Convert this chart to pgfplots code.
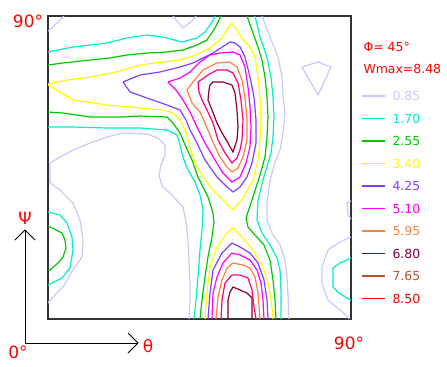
\documentclass[border=0pt]{standalone}
\usepackage{pgfplots}
\pgfplotsset{compat=1.18}
\usepackage{fontspec}
\setmainfont{DejaVu Sans}
\definecolor{c1}{RGB}{200,200,255}
\definecolor{c2}{RGB}{0,240,200}
\definecolor{c3}{RGB}{0,200,0}
\definecolor{c4}{RGB}{255,255,0}
\definecolor{c5}{RGB}{128,64,255}
\definecolor{c6}{RGB}{255,0,255}
\definecolor{c7}{RGB}{255,128,64}
\definecolor{c8}{RGB}{255,0,128}
\definecolor{c9}{RGB}{140,0,40}
\definecolor{l8}{RGB}{128,0,64}
\definecolor{l9}{RGB}{192,80,48}
\definecolor{l10}{RGB}{255,0,0}
\definecolor{lab}{RGB}{255,0,0}
\begin{document}
\begin{tikzpicture}
\path[use as bounding box] (0bp,0bp) rectangle (447bp,-367bp);
\begin{axis}[
  at={(48bp,-319bp)}, anchor=south west,
  scale only axis, width=303bp, height=303bp,
  xmin=48, xmax=351, ymin=16, ymax=319, y dir=reverse,
  axis line style={draw=black!80, line width=1.4bp},
  ticks=none,
  every axis plot/.append style={line width=1.2bp, no markers},
]
% level 0.85
\addplot[c1] coordinates {(48,31) (57,23) (64,16)};
\addplot[c1] coordinates {(173,16) (183,28) (192,21) (196,16)};
\addplot[c1] coordinates {(189,319) (190,300) (190,283) (189,260) (188,240) (186,222) (183,207) (172,195) (162,186) (159,175) (161,165) (165,155) (165,145) (158,138) (147,134) (123,133) (107,137) (90,143) (73,150) (60,157) (50,163) (50,183) (60,190) (73,203) (80,220) (83,240) (82,257) (73,270) (63,287) (50,300) (48,303)};
\addplot[c1] coordinates {(262,16) (270,37) (278,57) (282,77) (283,97) (285,113) (283,133) (280,150) (275,162) (270,180) (267,203) (267,220) (272,233) (280,245) (285,260) (287,277) (288,295) (289,319)};
\addplot[c1] coordinates {(302,67) (318,62) (331,67) (318,95) (302,67)};
\addplot[c1] coordinates {(351,237) (340,242) (328,250) (322,267) (322,283) (328,300) (340,310) (347,316) (349,319)};
\addplot[c1] coordinates {(351,201) (347,203) (348,215) (351,219)};
% level 1.70
\addplot[c2] coordinates {(48,52) (73,47) (107,43) (127,38) (147,35) (163,37) (182,42) (197,38) (205,32) (212,22) (215,16)};
\addplot[c2] coordinates {(48,127) (73,127) (107,128) (140,128) (167,130) (177,135) (180,145) (183,157) (187,168) (195,182) (200,195) (203,210) (202,230) (200,250) (198,277) (196,300) (194,319)};
\addplot[c2] coordinates {(255,16) (260,37) (267,57) (271,77) (273,97) (274,117) (273,137) (271,153) (268,163) (263,180) (258,200) (257,220) (262,233) (270,245) (277,258) (280,270) (281,290) (281,319)};
\addplot[c2] coordinates {(48,212) (60,215) (67,223) (72,237) (73,250) (70,268) (62,278) (50,284) (48,285)};
\addplot[c2] coordinates {(351,258) (340,263) (333,268) (333,287) (338,292) (345,297) (351,300)};
% level 2.55
\addplot[c3] coordinates {(48,65) (63,63) (90,60) (110,58) (127,55) (147,53) (167,52) (183,50) (197,45) (207,40) (215,28) (221,16)};
\addplot[c3] coordinates {(48,112) (63,113) (90,117) (123,117) (140,116) (167,117) (173,123) (180,133) (186,147) (192,160) (198,177) (208,197) (213,213) (214,222) (212,237) (208,257) (205,277) (202,300) (200,319)};
\addplot[c3] coordinates {(247,16) (252,30) (258,47) (262,60) (265,77) (267,97) (268,117) (267,137) (265,157) (260,175) (252,200) (246,218) (248,227) (255,235) (264,245) (270,260) (273,280) (275,300) (276,319)};
\addplot[c3] coordinates {(48,226) (62,233) (65,240) (66,248) (63,257) (58,263) (50,270) (48,270)};
% level 3.40
\addplot[c4] coordinates {(48,84) (67,80) (90,77) (117,72) (140,65) (163,62) (180,60) (193,56) (210,48) (222,38) (228,28) (232,23) (237,30) (243,40) (250,47) (255,57) (258,77) (260,97) (261,120) (260,140) (258,160) (253,180) (243,198) (233,210) (223,200) (213,190) (203,177) (195,163) (190,147) (186,132) (180,120) (173,113) (163,110) (140,108) (107,105) (73,100) (60,92) (48,85)};
\addplot[c4] coordinates {(205,319) (207,293) (210,267) (217,247) (227,233) (233,228) (242,237) (253,250) (263,267) (269,287) (272,307) (273,319)};
% level 4.25
\addplot[c5] coordinates {(123,82) (140,75) (160,72) (180,67) (193,63) (213,53) (230,42) (235,43) (240,47) (245,57) (250,77) (254,97) (256,120) (256,143) (252,163) (247,177) (240,187) (233,192) (227,187) (217,177) (205,160) (197,143) (190,130) (186,120) (180,110) (167,105) (147,98) (130,92) (123,82)};
\addplot[c5] coordinates {(208,319) (210,293) (213,270) (222,253) (232,243) (240,247) (250,253) (258,263) (264,280) (267,300) (268,319)};
% level 5.10
\addplot[c6] coordinates {(168,82) (180,78) (190,72) (200,62) (210,55) (220,53) (233,52) (240,55) (245,67) (248,87) (250,107) (251,127) (250,147) (246,163) (240,177) (232,182) (223,173) (215,160) (205,143) (197,127) (190,112) (183,100) (176,90) (168,82)};
\addplot[c6] coordinates {(212,319) (213,293) (217,277) (223,263) (232,253) (240,255) (250,260) (257,270) (261,283) (263,300) (264,319)};
% level 5.95
\addplot[c7] coordinates {(187,90) (193,82) (203,70) (217,63) (230,62) (237,67) (242,80) (245,97) (247,120) (247,140) (243,157) (238,168) (232,172) (227,167) (220,157) (212,140) (205,123) (200,112) (192,103) (187,90)};
\addplot[c7] coordinates {(216,319) (218,297) (222,280) (227,268) (233,263) (243,265) (250,268) (255,277) (258,293) (260,319)};
% level 6.80
\addplot[c8] coordinates {(198,82) (208,75) (217,70) (227,70) (233,73) (238,83) (241,100) (243,120) (242,140) (240,150) (237,158) (232,163) (225,153) (218,140) (213,123) (207,110) (202,100) (199,92) (198,82)};
\addplot[c8] coordinates {(221,319) (222,300) (225,283) (232,275) (240,275) (248,278) (252,290) (254,307) (256,319)};
% level 7.65
\addplot[c9] coordinates {(210,85) (213,82) (223,82) (232,85) (235,93) (237,110) (238,127) (237,140) (233,152) (228,143) (222,133) (217,123) (212,110) (208,100) (209,90) (210,85)};
\addplot[c9] coordinates {(228,319) (228,300) (230,292) (233,287) (240,290) (247,293) (252,298) (252,319)};
\end{axis}
\begin{scope}[x=1bp,y=1bp]
% axis arrows
\draw[black, line width=0.8bp] (25,-343) -- (25,-230);
\draw[black, line width=0.8bp] (15,-240) -- (25,-230) -- (35,-240);
\draw[black, line width=0.8bp] (25,-343) -- (138,-343);
\draw[black, line width=0.8bp] (128,-333) -- (138,-343) -- (128,-353);
\node[lab, font=\fontsize{17}{17}\selectfont] at (25,-218) {Ψ};
\node[lab, font=\fontsize{17}{17}\selectfont] at (148,-346) {θ};
\node[lab, font=\fontsize{17}{17}\selectfont] at (18,-352) {0°};
\node[lab, font=\fontsize{17}{17}\selectfont] at (28,-21) {90°};
\node[lab, font=\fontsize{17}{17}\selectfont] at (349,-343) {90°};
% legend
\node[lab, anchor=west, font=\fontsize{12.5}{12.5}\selectfont] at (360,-47) {Φ= 45°};
\node[lab, anchor=west, font=\fontsize{12.5}{12.5}\selectfont] at (360,-69) {Wmax=8.48};
\foreach \c/\t/\y in {c1/0.85/96, c2/1.70/118.5, c3/2.55/141, c4/3.40/163.5, c5/4.25/186, c6/5.10/208.5, c7/5.95/231, l8/6.80/253.5, l9/7.65/276, l10/8.50/298.5} {
  \draw[\c, line width=1.2bp] (362,-\y) -- (385,-\y);
  \node[\c, anchor=west, font=\fontsize{12.5}{12.5}\selectfont] at (389,-\y) {\t};
}
\end{scope}
\end{tikzpicture}
\end{document}
